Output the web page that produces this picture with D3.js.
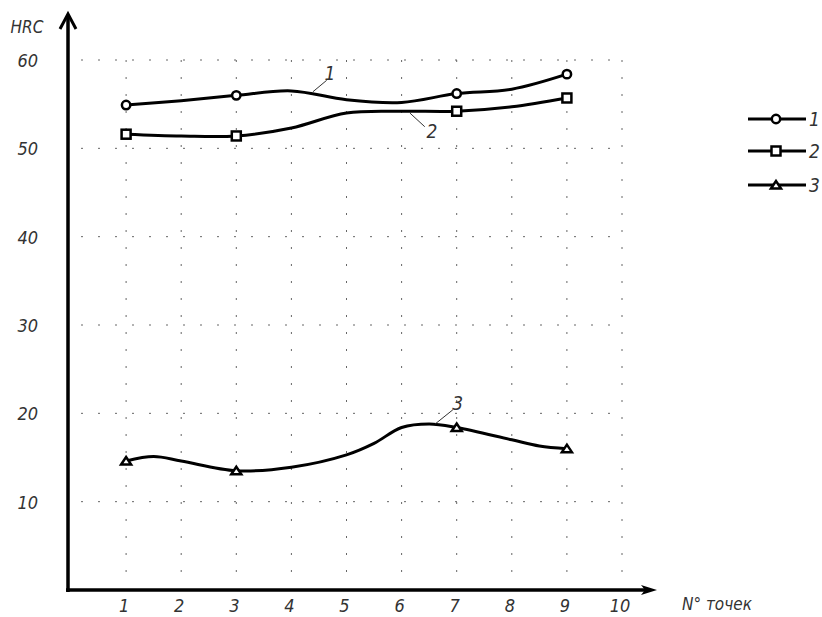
<!DOCTYPE html>
<html><head><meta charset="utf-8">
<script src="https://cdn.jsdelivr.net/npm/d3@7/dist/d3.min.js"></script>
<style>
html,body{margin:0;padding:0;background:#fff;}
text{font-family:"DejaVu Sans Condensed","Liberation Sans Narrow","Liberation Sans",sans-serif;font-style:italic;font-stretch:condensed;fill:#333;}
</style></head>
<body>
<svg id="c" width="822" height="617"></svg>
<script>
// ---- data ----
const xTicks = [1,2,3,4,5,6,7,8,9,10];
const yTicks = [10,20,30,40,50,60];
const xTickLabels = ["1","2","3","4","5","6","7","8","9","10"];
const yTickLabels = ["10","20","30","40","50","60"];
const yLabel = "HRC";
const xLabel = "N° точек";

const x1 = [1,2,3,4,5,6,7,8,9];
const hrc1 = [54.9,55.4,56.0,56.5,55.5,55.2,56.2,56.7,58.4];
const x2 = [1,2,3,4,5,6,7,8,9];
const hrc2 = [51.6,51.4,51.4,52.3,54.0,54.2,54.2,54.7,55.7];
const x3 = [1,1.5,2,3,4,5,5.5,6,6.5,7,8,8.5,9];
const hrc3 = [14.6,15.1,14.6,13.5,13.9,15.3,16.6,18.4,18.8,18.4,17.0,16.3,16.0];
const markerX = [1,3,7,9];
const seriesNames = ["1","2","3"];
const markerTypes = ["circle","square","triangle"];

// annotation labels (data coords): label pos, leader start, leader end
const annX = [4.70, 6.55, 7.02];
const annY = [58.5, 52.0, 21.2];
const leadX1 = [4.39, 6.15, 6.61], leadY1 = [56.4, 54.0, 18.8];
const leadX2 = [4.64, 6.42, 6.93], leadY2 = [57.7, 52.45, 20.4];

// ---- drawing ----
const svg = d3.select("#c");
const x = d3.scaleLinear().domain([0,10]).range([71,622]);
const y = d3.scaleLinear().domain([0,60]).range([590,60]);

// grid
const grid = svg.append("g").attr("stroke","#666").attr("stroke-width",1).attr("stroke-dasharray","2 15");
grid.selectAll("line.h").data(yTicks).join("line").attr("class","h")
  .attr("x1",x(0)+10).attr("x2",x(10)).attr("y1",d=>y(d)).attr("y2",d=>y(d));
grid.selectAll("line.v").data(xTicks).join("line").attr("class","v")
  .attr("x1",d=>x(d)).attr("x2",d=>x(d)).attr("y1",y(60)).attr("y2",y(0)-4);

// axes
const ax = x(0)-3;
svg.append("line").attr("x1",ax).attr("x2",ax).attr("y1",y(0)+2).attr("y2",15)
  .attr("stroke","#000").attr("stroke-width",3.5);
svg.append("path").attr("d",`M${ax-8},29 L${ax},14 L${ax+8},29`)
  .attr("fill","none").attr("stroke","#000").attr("stroke-width",3).attr("stroke-linejoin","miter");
svg.append("line").attr("x1",ax-2).attr("x2",648).attr("y1",y(0)).attr("y2",y(0))
  .attr("stroke","#000").attr("stroke-width",3.5);
svg.append("path").attr("d",`M641,${y(0)-5} L657,${y(0)} L641,${y(0)+5} L645,${y(0)} Z`)
  .attr("fill","#000");

// tick labels
svg.selectAll("text.xt").data(xTicks).join("text").attr("class","xt")
  .attr("x",d=>x(d)-2).attr("y",y(0)+22).attr("text-anchor","middle")
  .attr("font-size",18).text((d,i)=>xTickLabels[i]);
svg.selectAll("text.yt").data(yTicks).join("text").attr("class","yt")
  .attr("x",38).attr("y",d=>y(d)+7).attr("text-anchor","end")
  .attr("font-size",18).text((d,i)=>yTickLabels[i]);
svg.append("text").attr("x",27).attr("y",33).attr("text-anchor","middle").attr("font-size",17).text(yLabel);
svg.append("text").attr("x",682).attr("y",610).attr("font-size",17).text(xLabel);

// series
const line = d3.line().x(d=>x(d[0])).y(d=>y(d[1])).curve(d3.curveCatmullRom.alpha(0.5));
const series = [
  {xs:x1, ys:hrc1},
  {xs:x2, ys:hrc2},
  {xs:x3, ys:hrc3}
];
function drawMarker(g, type, cx, cy){
  if(type==="circle"){
    g.append("circle").attr("cx",cx).attr("cy",cy).attr("r",4.2)
      .attr("fill","#fff").attr("stroke","#000").attr("stroke-width",2.5);
  } else if(type==="square"){
    g.append("rect").attr("x",cx-4.5).attr("y",cy-4.5).attr("width",9).attr("height",9)
      .attr("fill","#fff").attr("stroke","#000").attr("stroke-width",2.5);
  } else {
    g.append("path").attr("d",`M${cx-5},${cy+3.5} L${cx},${cy-4} L${cx+5},${cy+3.5} Z`)
      .attr("fill","#fff").attr("stroke","#000").attr("stroke-width",2.5).attr("stroke-linejoin","miter");
  }
}
series.forEach((s,i)=>{
  const pts = s.xs.map((v,j)=>[v,s.ys[j]]);
  svg.append("path").datum(pts).attr("d",line).attr("fill","none")
    .attr("stroke","#000").attr("stroke-width",3);
  const g = svg.append("g");
  markerX.forEach(mx=>{
    const j = s.xs.indexOf(mx);
    drawMarker(g, markerTypes[i], x(mx), y(s.ys[j]));
  });
  // annotation
  svg.append("line").attr("x1",x(leadX1[i])).attr("y1",y(leadY1[i]))
    .attr("x2",x(leadX2[i])).attr("y2",y(leadY2[i])).attr("stroke","#333").attr("stroke-width",1);
  svg.append("text").attr("x",x(annX[i])).attr("y",y(annY[i])+7).attr("text-anchor","middle")
    .attr("font-size",19).text(seriesNames[i]);
});

// legend
const legY = [119,151,185];
seriesNames.forEach((n,i)=>{
  const g = svg.append("g");
  g.append("line").attr("x1",748).attr("x2",806).attr("y1",legY[i]).attr("y2",legY[i])
    .attr("stroke","#000").attr("stroke-width",3);
  drawMarker(g, markerTypes[i], 776, legY[i]);
  g.append("text").attr("x",809).attr("y",legY[i]+7).attr("font-size",19).text(n);
});
</script>
</body></html>
